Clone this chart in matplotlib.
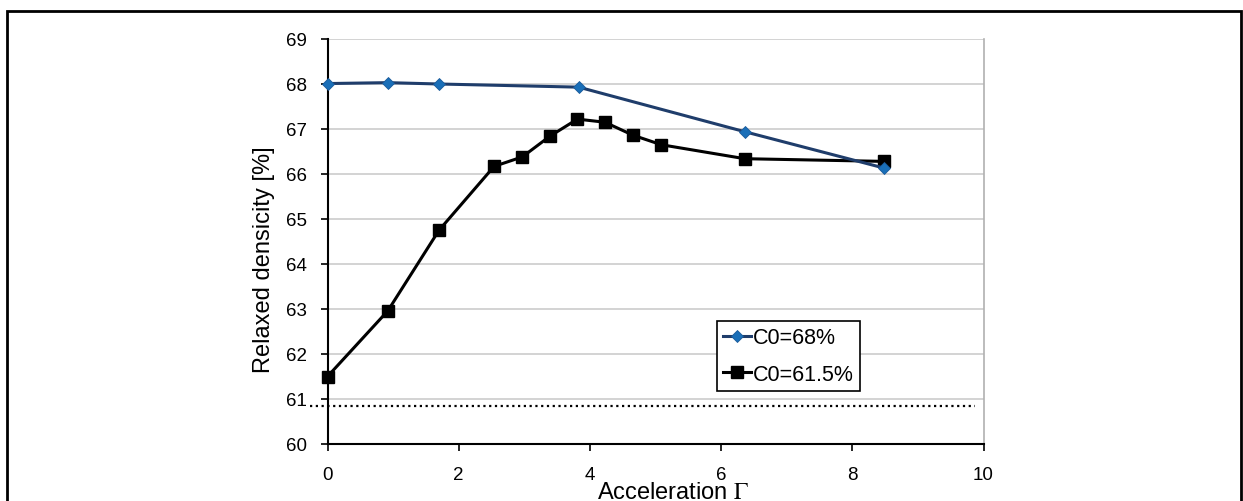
import matplotlib
matplotlib.use("Agg")
import matplotlib.pyplot as plt
from matplotlib.patches import Rectangle

plt.rcParams['font.family'] = ['Liberation Sans', 'DejaVu Sans']
plt.rcParams['mathtext.fontset'] = 'stix'

# Data
gamma_68 = [0.0, 0.92, 1.70, 3.83, 6.36, 8.49]
dens_68 = [68.01, 68.03, 68.00, 67.93, 66.94, 66.13]

gamma_615 = [0.0, 0.92, 1.70, 2.54, 2.97, 3.39, 3.81, 4.23, 4.66, 5.09, 6.36, 8.49]
dens_615 = [61.50, 62.96, 64.75, 66.17, 66.38, 66.84, 67.22, 67.15, 66.86, 66.65, 66.34, 66.28]

ref_level = 60.84
ref_span = [-0.27, 9.87]

x_ticks = [0, 2, 4, 6, 8, 10]
y_ticks = [60, 61, 62, 63, 64, 65, 66, 67, 68, 69]
labels = ['C0=68%', 'C0=61.5%']

W, H = 1243, 502
fig = plt.figure(figsize=(W / 100, H / 100), dpi=100)
L, R, T, B = 327.5, 983.5, 40, 445
ax = fig.add_axes([L / W, 1 - B / H, (R - L) / W, (B - T) / H])

ax.set_xlim(0, 10)
ax.set_ylim(60, 69)
ax.set_xticks(x_ticks)
ax.set_yticks(y_ticks)
ax.tick_params(axis='both', direction='out', length=5, width=1.2, labelsize=13.5, color='black')
ax.tick_params(axis='x', pad=11)
ax.tick_params(axis='y', pad=10)

ax.grid(axis='y', color='#c8c8c8', linewidth=1.1, zorder=0)
ax.set_axisbelow(True)
for s in ['left', 'bottom']:
    ax.spines[s].set_color('black')
    ax.spines[s].set_linewidth(1.5)
ax.spines['right'].set_color('#b0b0b0')
ax.spines['right'].set_linewidth(1.2)
ax.spines['top'].set_visible(False)

l1, = ax.plot(gamma_68, dens_68, color='#1f3d6b', linewidth=2.2, marker='D', markersize=6.3,
              markerfacecolor='#1a6fb8', markeredgecolor='#1a5a9a', markeredgewidth=0.6,
              zorder=4, clip_on=False, label=labels[0])
l2, = ax.plot(gamma_615, dens_615, color='black', linewidth=2.2, marker='s', markersize=9.3,
              markerfacecolor='black', markeredgecolor='black', zorder=3, clip_on=False,
              label=labels[1])

ax.plot(ref_span, [ref_level, ref_level], color='black', linestyle=(0, (1, 1.6)),
        linewidth=1.6, clip_on=False, zorder=2)

leg = ax.legend(handles=[l1, l2], loc='upper left', bbox_to_anchor=((717 - L) / (R - L), (B - 322) / (B - T)),
                fontsize=15.5, frameon=True, fancybox=False, edgecolor='black', framealpha=1,
                handlelength=1.3, handletextpad=0.05, borderpad=0.3, labelspacing=0.7,
                borderaxespad=0)
leg.get_frame().set_linewidth(1.2)

fig.text(264 / W, 1 - 260 / H, 'Relaxed densicity [%]', rotation=90, ha='center', va='center', fontsize=17)
fig.text(597 / W, 1 - 499 / H, r'Acceleration $\Gamma$', ha='left', va='baseline', fontsize=17)

fig.patches.append(Rectangle((7 / W, -0.05), (1241 - 7) / W, 1.05 - 12 / H, transform=fig.transFigure,
                             fill=False, edgecolor='black', linewidth=2.0, clip_on=False))

fig.savefig('out.png', dpi=100)
